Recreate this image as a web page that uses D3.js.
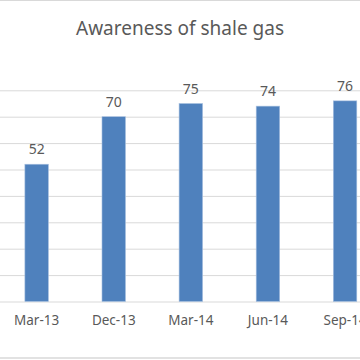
<!DOCTYPE html>
<html>
<head>
<meta charset="utf-8">
<script src="https://cdn.jsdelivr.net/npm/d3@7"></script>
<style>
  body { margin: 0; background: #fff; }
  svg { display: block; }
  text { font-family: "Noto Sans", "Open Sans", sans-serif; fill: #595959; }
</style>
</head>
<body>
<svg id="chart"></svg>
<script>
let width = 360;
let height = 360;

const categories = ["Mar-13", "Dec-13", "Mar-14", "Jun-14", "Sep-14"];
const awareness = [52, 70, 75, 74, 76];
const gridTicks = [0, 10, 20, 30, 40, 50, 60, 70, 80];
const chartTitle = "Awareness of shale gas";

let svg = d3.select("#chart").attr("width", width).attr("height", height);

// chart is cropped on the left and right, plot area runs past the edges
let x = d3.scaleBand()
  .domain(categories)
  .range([-1.9, 383.6])
  .paddingInner(0.695)
  .paddingOuter(0.3475);

let y = d3.scaleLinear()
  .domain([0, 80])
  .range([301.5, 90.3]);

// outer border bits of the chart area
svg.append("line")
  .attr("x1", 0).attr("x2", width).attr("y1", 0.5).attr("y2", 0.5)
  .attr("stroke", "#d9d9d9");
svg.append("line")
  .attr("x1", 0).attr("x2", width).attr("y1", 358).attr("y2", 358)
  .attr("stroke", "#d9d9d9").attr("stroke-width", 1.5);

// gridlines
let grid = svg.append("g")
  .attr("transform", `translate(0,0)`)
  .call(d3.axisRight(y).tickValues(gridTicks).tickSize(width).tickFormat(""));
grid.select(".domain").remove();
grid.selectAll(".tick line").attr("stroke", "#d9d9d9").attr("stroke-width", 1);

// bars
svg.append("g")
  .selectAll("rect")
  .data(awareness)
  .enter()
  .append("rect")
  .attr("x", (d, i) => x(categories[i]))
  .attr("width", x.bandwidth())
  .attr("y", d => y(d))
  .attr("height", d => y(0) - y(d))
  .attr("fill", "#4f81bd")
  .attr("stroke", "#a9c1e0")
  .attr("stroke-width", 0.6);

// data labels
svg.append("g")
  .selectAll("text")
  .data(awareness)
  .enter()
  .append("text")
  .attr("x", (d, i) => x(categories[i]) + x.bandwidth() / 2)
  .attr("y", d => y(d) - 10)
  .attr("text-anchor", "middle")
  .attr("font-size", 14)
  .text(d => d);

// category axis
let xAxis = svg.append("g")
  .attr("transform", `translate(0,${y(0)})`)
  .call(d3.axisBottom(x).tickSize(0).tickPadding(14));
xAxis.select(".domain").remove();
xAxis.selectAll("text")
  .attr("font-size", 13.5)
  .attr("fill", "#595959")
  .style("font-family", "'Noto Sans', sans-serif");

// title
svg.append("text")
  .attr("x", 180)
  .attr("y", 35)
  .attr("text-anchor", "middle")
  .attr("font-size", 19)
  .text(chartTitle);
</script>
</body>
</html>
